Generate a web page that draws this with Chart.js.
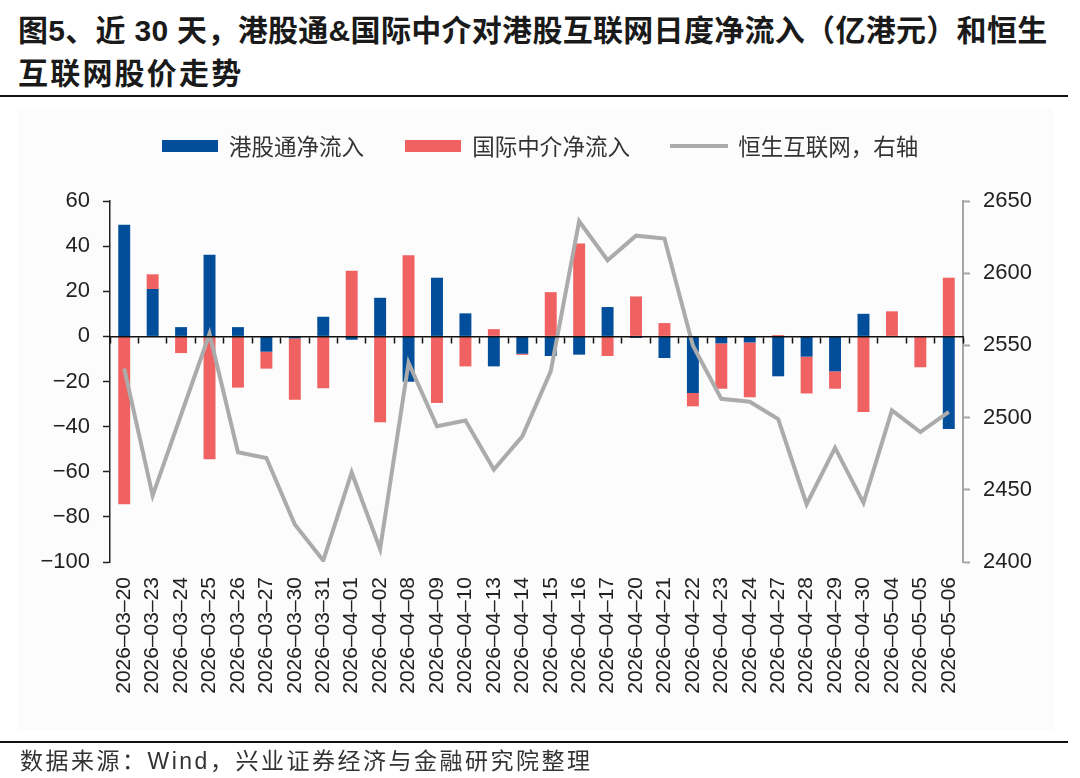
<!DOCTYPE html>
<html>
<head>
<meta charset="utf-8">
<script src="https://cdn.jsdelivr.net/npm/chart.js@4/dist/chart.umd.min.js"></script>
<style>
  html, body { margin: 0; padding: 0; background: #fff; }
  body { width: 1080px; height: 778px; position: relative; overflow: hidden;
         font-family: "Liberation Sans", "Noto Sans CJK SC", sans-serif; }
  #title { position: absolute; left: 18px; top: 9px; font-size: 30px; font-weight: bold;
           line-height: 43px; color: #1a1a1a; white-space: nowrap; letter-spacing: 0.3px; }
  #title .l2 { letter-spacing: 2.2px; }
  #rule1 { position: absolute; left: 0; top: 95px; width: 1068px; height: 2px; background: #111; }
  #panel { position: absolute; left: 17px; top: 108px; width: 1036px; height: 622px; background: #fcfcfc; }
  #rule2 { position: absolute; left: 0; top: 741px; width: 1068px; height: 2px; background: #111; }
  #footer { position: absolute; left: 20px; top: 745px; font-size: 23px; line-height: 32px;
            color: #333; white-space: nowrap; letter-spacing: 2.5px; }
  #chartwrap { position: absolute; left: 0; top: 0; width: 1080px; height: 778px; }
</style>
</head>
<body>
<div id="panel"></div>
<div id="title">图5、近 30 天，港股通&amp;国际中介对港股互联网日度净流入（亿港元）和恒生<br><span class="l2">互联网股价走势</span></div>
<div id="rule1"></div>
<div id="chartwrap"><canvas id="c" width="1080" height="778"></canvas></div>
<div id="rule2"></div>
<div id="footer">数据来源：Wind，兴业证券经济与金融研究院整理</div>
<script>
// ---- data ----
const dates = ["2026–03–20","2026–03–23","2026–03–24","2026–03–25","2026–03–26","2026–03–27",
  "2026–03–30","2026–03–31","2026–04–01","2026–04–02","2026–04–08","2026–04–09","2026–04–10",
  "2026–04–13","2026–04–14","2026–04–15","2026–04–16","2026–04–17","2026–04–20","2026–04–21",
  "2026–04–22","2026–04–23","2026–04–24","2026–04–27","2026–04–28","2026–04–29","2026–04–30",
  "2026–05–04","2026–05–05","2026–05–06"];
const hkConnectFlow = [49.5, 21.0, 4.1, 36.2, 4.1, -6.8, -0.9, 8.7, -1.5, 17.1, -20.1, 26.0, 10.2,
  -13.3, -7.7, -8.7, -8.1, 13.0, -0.7, -9.6, -25.1, -3.1, -2.7, -17.7, -9.0, -15.5, 10.0, 0, 0, -41.1];
const intlBrokerFlow = [-74.4, 6.5, -7.4, -54.5, -22.7, -7.5, -27.2, -23.0, 29.1, -38.1, 36.0, -29.5, -13.3,
  3.2, -0.5, 19.6, 41.2, -8.7, 17.7, 5.9, -5.9, -20.1, -24.3, 0.6, -16.3, -7.7, -33.5, 11.1, -13.7, 26.0];
const hsInternetIndex = [2534, 2446, 2502, 2558, 2476, 2472, 2426, 2401, 2462, 2409, 2538, 2494, 2498,
  2464, 2487, 2532, 2636, 2609, 2626, 2624, 2550, 2513, 2511, 2499, 2440, 2479, 2441, 2505, 2490, 2504];
const seriesNames = ["港股通净流入", "国际中介净流入", "恒生互联网，右轴"];
const leftTicks = { min: -100, max: 60, step: 20 };
const rightTicks = { min: 2400, max: 2650, step: 50 };

// ---- styles ----
const BLUE = "#024e9a", RED = "#f06161", GRAY = "#ababab";
function swatch(w, h, color) {
  const c = document.createElement("canvas");
  c.width = w; c.height = h;
  const g = c.getContext("2d");
  g.fillStyle = color; g.fillRect(0, 0, w, h);
  return c;
}
const swatches = [swatch(56, 12, BLUE), swatch(56, 12, RED), swatch(58, 4, GRAY)];
const fmtMinus = v => (v < 0 ? "\u2212" + Math.abs(v) : String(v));
const fmtPlain = v => String(v);

new Chart(document.getElementById("c"), {
  data: {
    labels: dates,
    datasets: [
      { type: "bar", label: seriesNames[0], data: hkConnectFlow, backgroundColor: BLUE,
        xAxisID: "x", yAxisID: "y", stack: "s", order: 1, barPercentage: 0.42, categoryPercentage: 1 },
      { type: "bar", label: seriesNames[1], data: intlBrokerFlow, backgroundColor: RED,
        xAxisID: "x", yAxisID: "y", stack: "s", order: 1, barPercentage: 0.42, categoryPercentage: 1 },
      { type: "line", label: seriesNames[2], data: hsInternetIndex, borderColor: GRAY, backgroundColor: GRAY,
        borderWidth: 4, pointRadius: 0, tension: 0, fill: false, xAxisID: "x", yAxisID: "y1", order: 0 }
    ]
  },
  options: {
    responsive: false,
    devicePixelRatio: 1,
    animation: false,
    events: [],
    layout: { padding: { top: 94, left: 0, right: 0, bottom: 0 } },
    plugins: {
      tooltip: { enabled: false },
      title: { display: false },
      subtitle: { display: true, text: "", weight: 1500, font: { size: 10, lineHeight: 1.2 },
                  padding: { top: 0, bottom: 21.5 } },
      legend: {
        display: true, position: "top", align: "center", weight: 3000,
        labels: {
          usePointStyle: true, pointStyleWidth: 56, padding: 41, color: "#333",
          font: { family: "'Noto Sans CJK SC', 'Liberation Sans', sans-serif", size: 22.5 },
          sort: (a, b) => a.datasetIndex - b.datasetIndex,
          generateLabels(chart) {
            const items = Chart.defaults.plugins.legend.labels.generateLabels(chart);
            items.forEach(it => { it.pointStyle = swatches[it.datasetIndex]; });
            return items;
          }
        }
      }
    },
    scales: {
      x: {
        stacked: true, offset: true,
        grid: { display: false, drawTicks: false }, border: { display: false },
        ticks: { autoSkip: false, minRotation: 90, maxRotation: 90, padding: 15, color: "#222",
                 font: { family: "'Liberation Sans', sans-serif", size: 21 } },
        afterFit(s) { s.height = 216; }
      },
      x2: {
        type: "category", position: { y: 0 }, offset: true,
        grid: { offset: true, drawOnChartArea: false, drawTicks: true, tickLength: 6,
                tickColor: "#111", tickWidth: 1.5, z: 1 },
        border: { display: true, color: "#111", width: 1.5, z: 1 },
        ticks: { display: false }
      },
      y: {
        stacked: true, position: "left", min: leftTicks.min, max: leftTicks.max,
        ticks: { stepSize: leftTicks.step, padding: 13, color: "#222",
                 font: { family: "'Liberation Sans', sans-serif", size: 22 }, callback: fmtMinus },
        grid: { drawOnChartArea: false, tickLength: 7, tickColor: "#222", tickWidth: 1.5 },
        border: { color: "#222", width: 1.5 },
        afterFit(s) { s.width = 110; }
      },
      y1: {
        position: "right", min: rightTicks.min, max: rightTicks.max,
        ticks: { stepSize: rightTicks.step, padding: 13, color: "#222",
                 font: { family: "'Liberation Sans', sans-serif", size: 22 }, callback: fmtPlain },
        grid: { drawOnChartArea: false, tickLength: 7, tickColor: "#a6a6a6", tickWidth: 2 },
        border: { color: "#a6a6a6", width: 2 },
        afterFit(s) { s.width = 117; }
      }
    }
  }
});
</script>
</body>
</html>
